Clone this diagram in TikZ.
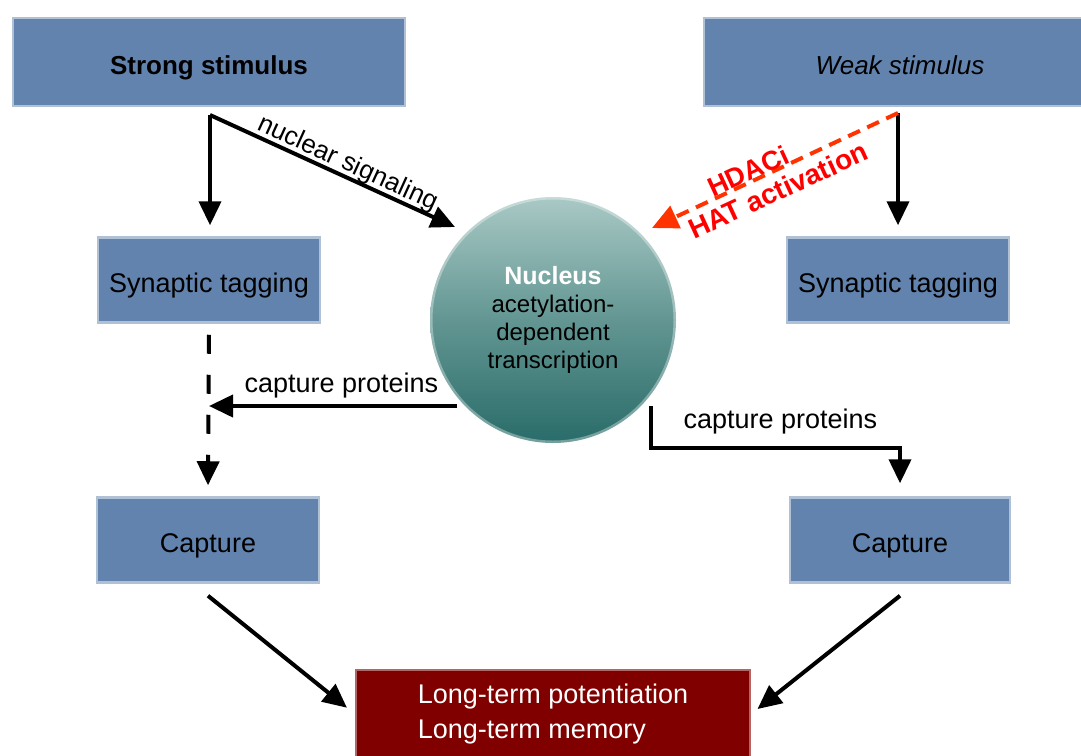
\documentclass[tikz,border=0pt]{standalone}
\usepackage{fontspec}
\setmainfont{Liberation Sans}
\usepackage{tikz}
\usetikzlibrary{positioning,arrows.meta,calc}

\definecolor{boxblue}{HTML}{6283AE}
\definecolor{ltpred}{HTML}{800000}
\definecolor{nuctop}{HTML}{A9C9C5}
\definecolor{nucbot}{HTML}{296C69}
\definecolor{hdacline}{HTML}{FF3300}
\definecolor{hdactxt}{HTML}{FF0000}

\newcommand{\boxfont}{\fontsize{27}{30}\selectfont}
\newcommand{\nucfont}{\fontsize{24}{28}\selectfont}

\tikzset{
	stimbox/.style={rectangle, fill=boxblue, draw=boxblue!50!white, line width=2.5pt,
		minimum width=392pt, minimum height=88pt, text height=24pt, text depth=0pt},
	tagbox/.style={stimbox, minimum width=222pt, minimum height=85pt, font=\boxfont},
	arr/.style={line width=4pt, -{Triangle[width=22pt,length=24pt]}},
	lbl/.style={font=\boxfont, inner sep=0pt}
}

\begin{document}
\begin{tikzpicture}[x=1pt,y=-1pt]
				\useasboundingbox (0,0) rectangle (1081,755);

				% Stimoli
				\node[stimbox, font=\fontsize{26}{30}\selectfont\bfseries] (strong) at (209,62) {Strong stimulus};
				\node[stimbox, font=\fontsize{26}{30}\selectfont\itshape] (weak) at (900,62) {Weak stimulus};

				% Tagging e cattura
				\node[tagbox] (tagL) at (209,280) {Synaptic tagging};
				\node[tagbox] (tagR) at (898,280) {Synaptic tagging};
				\node[tagbox] (capL) at (208,540) {Capture};
				\node[tagbox, minimum width=220pt] (capR) at (900,540) {Capture};

				% Nucleo
				\node[circle, minimum size=246pt, top color=nuctop, bottom color=nucbot, middle color=nuctop!45!nucbot,
					draw=white, draw opacity=0.35, line width=5pt, align=center, font=\nucfont, inner sep=0pt] (nuc) at (553,320)
					{{\fontsize{25}{29}\selectfont\bfseries\color{white}Nucleus}\\acetylation-\\dependent\\transcription};

				% LTP / memoria
				\node[rectangle, fill=ltpred, draw=ltpred!60!white, line width=2.5pt, minimum width=394pt, minimum height=88pt,
					text=white, align=left, font=\fontsize{27}{35}\selectfont] (ltp) at (553,714)
					{Long-term potentiation\\Long-term memory};

				% Punti di partenza delle frecce
				\coordinate (sA) at (210,115);
				\coordinate (nsTip) at (455,227);
				\coordinate (wA) at (898,113);
				\coordinate (hdTip) at (652,228);
				\coordinate (cpL) at (457,406);
				\coordinate (cpR) at (651,406);
				\coordinate (cpRk) at (651,448);

				% Frecce dallo stimolo forte
				\draw[arr] (sA) -- node[sloped, pos=0.54, anchor=base, yshift=6pt, font=\fontsize{26}{30}\selectfont] {nuclear signaling} (nsTip);
				\draw[arr] (sA) -- ([yshift=11pt]sA |- tagL.north);

				% Frecce dallo stimolo debole
				\draw[arr] (wA) -- ([yshift=11pt]wA |- tagR.north);
				\draw[line width=4pt, draw=hdacline, dash pattern=on 13pt off 8pt, -{Triangle[width=24pt,length=26pt]}, hdacline] (wA) -- (hdTip);
				\node[font=\fontsize{27}{30}\selectfont\bfseries, text=hdactxt, rotate=24.7] at (748,171) {HDACi};
				\node[font=\fontsize{28}{30}\selectfont\bfseries, text=hdactxt, rotate=24.7] at (778,190) {HAT activation};

				% Proteine di cattura
				\draw[arr, dash pattern=on 19pt off 21pt] ([yshift=-11pt]tagL.south) -- ([yshift=11pt]capL.north);
				\draw[arr] (cpL) -- node[lbl, pos=0.466, above=6pt] {capture proteins} (cpL -| tagL);
				\draw[arr] (cpR) -- (cpRk) -- node[lbl, pos=0.52, above=12pt] {capture proteins} (cpRk -| capR) -- ([yshift=13pt]capR.north);

				% Verso LTP
				\draw[arr, shorten >=10pt] ([yshift=-12pt]capL.south) -- (ltp.west);
				\draw[arr, shorten >=8pt] ([yshift=-12pt]capR.south) -- (ltp.east);
			\end{tikzpicture}
\end{document}
